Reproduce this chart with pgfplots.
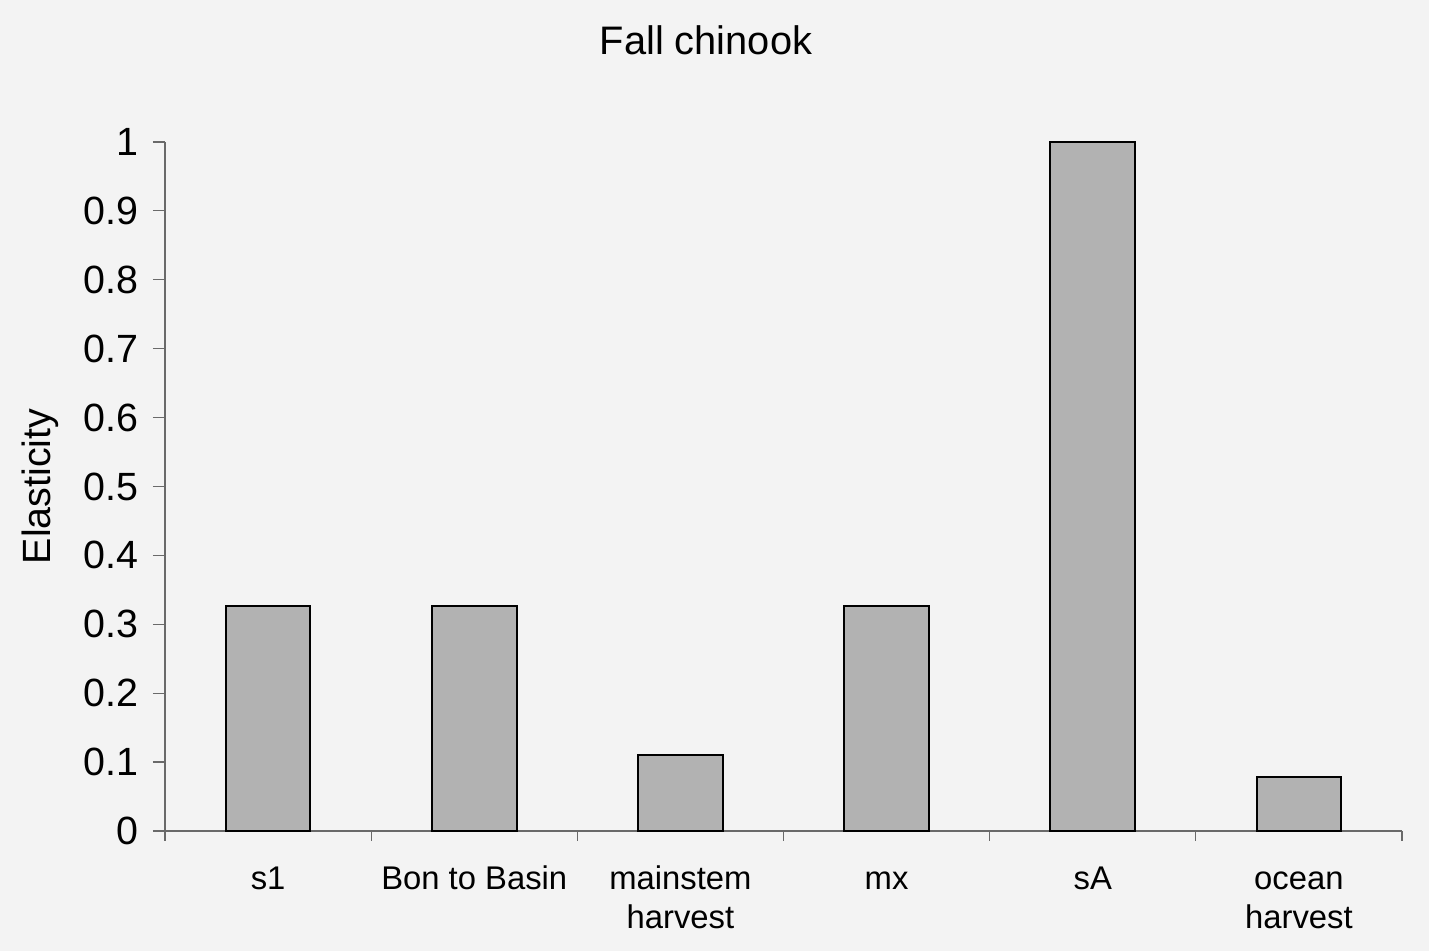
\documentclass[border=0pt]{standalone}
\usepackage{pgfplots}
\pgfplotsset{compat=1.18}
\usepackage{fontspec}
\setmainfont{Liberation Sans}

\definecolor{paper}{RGB}{243,243,243}
\definecolor{barfill}{RGB}{178,178,178}
\definecolor{axisgray}{RGB}{105,105,105}

\begin{document}
\begin{tikzpicture}
% page background
\fill[paper] (0,0) rectangle (714.5pt,475.5pt);
\begin{axis}[
  at={(82.5pt,60pt)}, anchor=south west,
  scale only axis, width=618.5pt, height=344.5pt,
  xmin=-0.5, xmax=5.5, ymin=0, ymax=1,
  axis lines*=left,
  axis line style={draw=axisgray, line width=0.6pt},
  clip=false,
  /pgf/number format/assume math mode=true,
  /pgf/number format/fixed,
  ytick={0,0.1,0.2,0.3,0.4,0.5,0.6,0.7,0.8,0.9,1},
  yticklabels={0,0.1,0.2,0.3,0.4,0.5,0.6,0.7,0.8,0.9,1},
  y tick style={draw=axisgray, line width=0.6pt},
  tick align=outside,
  major tick length=6pt,
  yticklabel style={font=\fontsize{19.7}{23.6}\selectfont, xshift=-4pt},
  xtick={0,1,2,3,4,5},
  xticklabels={\strut s1, \strut Bon to Basin, {\strut mainstem\\harvest}, \strut mx, \strut sA, {\strut ocean\\harvest}},
  xticklabel style={font=\fontsize{16.4}{19.6}\selectfont, align=center, anchor=north, yshift=-6pt},
  x tick style={draw=none},
  extra x ticks={-0.5,0.5,1.5,2.5,3.5,4.5,5.5},
  extra x tick labels={},
  extra x tick style={x tick style={draw=axisgray, line width=0.6pt}, major tick length=5pt, tick align=outside},
  ylabel={Elasticity},
  ylabel style={at={(axis description cs:-0.101,0.5)}, anchor=center,
    font=\fontsize{19.7}{23.6}\selectfont},
]
\addplot[ybar, bar width=0.41, fill=barfill, draw=black, line width=1pt]
  coordinates {(0,0.327) (1,0.327) (2,0.110) (3,0.327) (4,1.0) (5,0.078)};
\end{axis}
\node[font=\fontsize{19.9}{23.9}\selectfont] at (353pt,455.5pt) {Fall chinook};
\end{tikzpicture}
\end{document}
